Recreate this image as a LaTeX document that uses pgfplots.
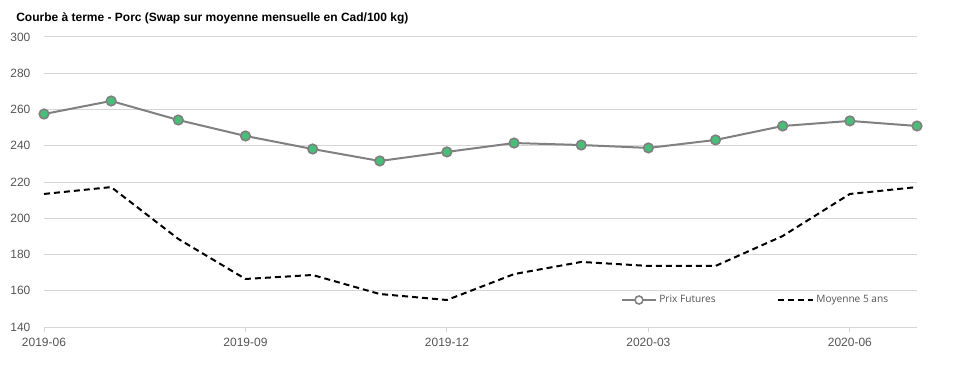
\documentclass[border=0pt]{standalone}
\usepackage{pgfplots}
\pgfplotsset{compat=1.18}
\usepackage{fontspec}
\setmainfont{Liberation Sans}
\newfontfamily\legfont{Open Sans}
\definecolor{mgreen}{RGB}{72,190,120}
\definecolor{mgray}{RGB}{128,128,128}
\definecolor{gridc}{RGB}{214,214,214}
\definecolor{tickc}{RGB}{85,85,85}
\begin{document}
\begin{tikzpicture}[x=1pt,y=1pt]
\useasboundingbox (0,0) rectangle (719.25,281.25);
\node[anchor=west,inner sep=0pt,font=\bfseries\fontsize{9pt}{10pt}\selectfont] at (12,267.75) {Courbe à terme - Porc (Swap sur moyenne mensuelle en Cad/100 kg)};
\begin{axis}[
  at={(33pt,36pt)}, anchor=south west,
  scale only axis, width=654.75pt, height=217.5pt,
  xmin=0, xmax=13, ymin=140, ymax=300,
  ytick={140,160,...,300},
  xtick={0,3,6,9,12},
  xticklabels={2019-06,2019-09,2019-12,2020-03,2020-06},
  axis line style={draw=none},
  ymajorgrids, grid style={gridc, line width=0.75pt},
  ytick style={draw=none},
  xtick style={gridc, line width=0.75pt},
  major tick length=4pt, tick align=outside, xtick pos=bottom, ytick pos=left,
  /pgf/number format/assume math mode=true,
  ticklabel style={font=\fontsize{9pt}{10pt}\selectfont, text=tickc},
  yticklabel style={inner sep=0pt, xshift=-6pt},
  xticklabel style={inner sep=0pt, yshift=-4pt},
  clip=false,
  legend style={at={(0.661,0.093)}, anchor=west, draw=none, fill=none,
    legend columns=2, font=\legfont\fontsize{7.6pt}{9pt}\selectfont, text=tickc,
    /tikz/every even column/.append style={column sep=44pt},
    cells={anchor=west}, inner sep=0pt},
  legend image code/.code={
    \draw[#1] (0pt,0pt) -- (25pt,0pt);
  },
]
\addplot[mgray, line width=1.5pt, mark=*, mark size=3.6pt,
  mark options={fill=mgreen, draw=mgray, line width=1.2pt},
  legend image code/.code={
    \draw[mgray, line width=1.5pt] (0pt,0pt) -- (25pt,0pt);
    \draw[mgray, line width=1.2pt, fill=white] (12.5pt,0pt) circle (3pt);
  }] coordinates {
(0,257.5) (1,264.7) (2,254.2) (3,245.4) (4,238.2) (5,231.6) (6,236.6)
(7,241.5) (8,240.4) (9,238.8) (10,243.2) (11,250.9) (12,253.7) (13,250.9)
};
\addlegendentry{Prix Futures}
\addplot[black, line width=1.5pt, dash pattern=on 4.5pt off 3pt,
  legend image code/.code={
    \draw[black, line width=1.5pt, dash pattern=on 4.5pt off 3pt] (0pt,0pt) -- (26pt,0pt);
  }] coordinates {
(0,213.4) (1,217.2) (2,188.6) (3,166.5) (4,168.7) (5,158.2) (6,154.9)
(7,169.2) (8,175.9) (9,173.7) (10,173.7) (11,190.2) (12,213.4) (13,217.2)
};
\addlegendentry{Moyenne 5 ans}
\end{axis}
\end{tikzpicture}
\end{document}
